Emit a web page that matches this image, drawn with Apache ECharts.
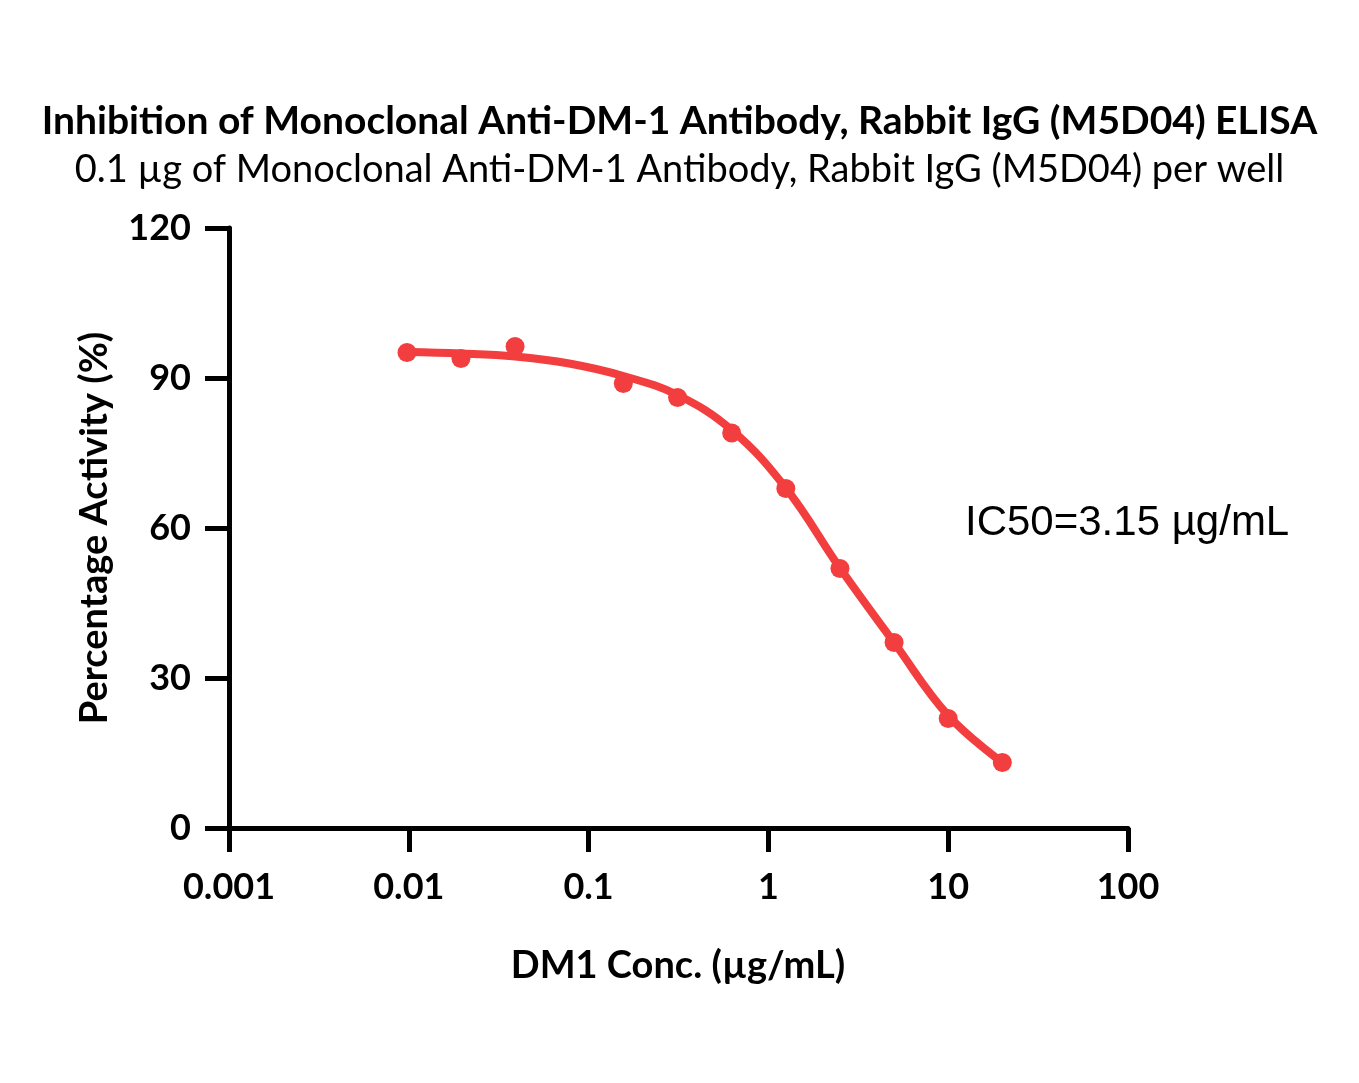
<!DOCTYPE html>
<html>
<head>
<meta charset="utf-8">
<script src="https://cdn.jsdelivr.net/npm/echarts@6/dist/echarts.min.js"></script>
<style>
  html, body { margin: 0; padding: 0; background: #fff; }
  #chart { width: 1359px; height: 1083px; }
</style>
</head>
<body>
<div id="chart"></div>
<script>
// measured points (conc in µg/mL, % activity)
const conc = [0.00977, 0.0195, 0.039, 0.156, 0.3125, 0.625, 1.25, 2.5, 5, 10, 20]
const activity = [95.1, 93.9, 96.3, 88.9, 86.1, 79.0, 67.9, 51.9, 37.1, 21.9, 13.1]

// fitted curve
const fitConc = [0.00977, 0.0195, 0.039, 0.078, 0.156, 0.3125, 0.625, 1.25, 2.5, 5, 10, 20]
const fitActivity = [95.2, 94.9, 94.3, 92.9, 90.4, 86.6, 79.6, 68.0, 52.0, 37.1, 22.5, 13.1]

const yTicks = [0, 30, 60, 90, 120]

const red = '#F23E3E'
const font = 'Lato, "Open Sans", sans-serif'

const chart = echarts.init(document.getElementById('chart'))

chart.setOption({
  backgroundColor: '#fff',
  animation: false,
  title: [
    {
      text: 'Inhibition of Monoclonal Anti-DM-1 Antibody, Rabbit IgG (M5D04) ELISA',
      left: 'center',
      top: 97,
      textStyle: { fontFamily: font, fontWeight: 'bold', fontSize: 39, color: '#000' },
    },
    {
      text: '0.1 µg of Monoclonal Anti-DM-1 Antibody, Rabbit IgG (M5D04) per well',
      left: 'center',
      top: 146,
      textStyle: { fontFamily: font, fontWeight: 'normal', fontSize: 38, color: '#000' },
    },
  ],
  grid: { left: 229, top: 228, width: 899, height: 600 },
  xAxis: {
    type: 'log',
    logBase: 10,
    min: 0.001,
    max: 100,
    axisLine: { lineStyle: { color: '#000', width: 5 } },
    axisTick: { length: 24, lineStyle: { color: '#000', width: 5 } },
    minorTick: { show: false },
    splitLine: { show: false },
    axisLabel: {
      margin: 41,
      fontFamily: font, fontWeight: 'bold', fontSize: 36, color: '#000',
      formatter: v => String(+v.toPrecision(3)),
    },
  },
  yAxis: {
    type: 'value',
    min: yTicks[0],
    max: yTicks[yTicks.length - 1],
    interval: 30,
    axisLine: { show: true, lineStyle: { color: '#000', width: 5 } },
    axisTick: { show: true, length: 24, lineStyle: { color: '#000', width: 5 } },
    splitLine: { show: false },
    axisLabel: { margin: 38, fontFamily: font, fontWeight: 'bold', fontSize: 36, color: '#000' },
  },
  graphic: [
    {
      type: 'text', x: 95, y: 528, rotation: Math.PI / 2,
      style: { text: 'Percentage Activity (%)', fontFamily: font, fontWeight: 'bold', fontSize: 38, fill: '#000', align: 'center', verticalAlign: 'middle' },
    },
    {
      type: 'text', x: 678, y: 966,
      style: { text: 'DM1 Conc. (µg/mL)', fontFamily: font, fontWeight: 'bold', fontSize: 38, fill: '#000', align: 'center', verticalAlign: 'middle' },
    },
    {
      type: 'text', x: 965, y: 523,
      style: { text: 'IC50=3.15 µg/mL', fontFamily: '"Liberation Sans", Arial, sans-serif', fontSize: 42, fill: '#000', align: 'left', verticalAlign: 'middle' },
    },
  ],
  series: [
    {
      type: 'line',
      data: fitConc.map((c, i) => [c, fitActivity[i]]),
      smooth: 0.4,
      showSymbol: false,
      lineStyle: { color: red, width: 8, cap: 'round' },
      z: 2,
    },
    {
      type: 'scatter',
      data: conc.map((c, i) => [c, activity[i]]),
      symbol: 'circle',
      symbolSize: 19,
      itemStyle: { color: red, opacity: 1 },
      z: 3,
    },
  ],
})
</script>
</body>
</html>
